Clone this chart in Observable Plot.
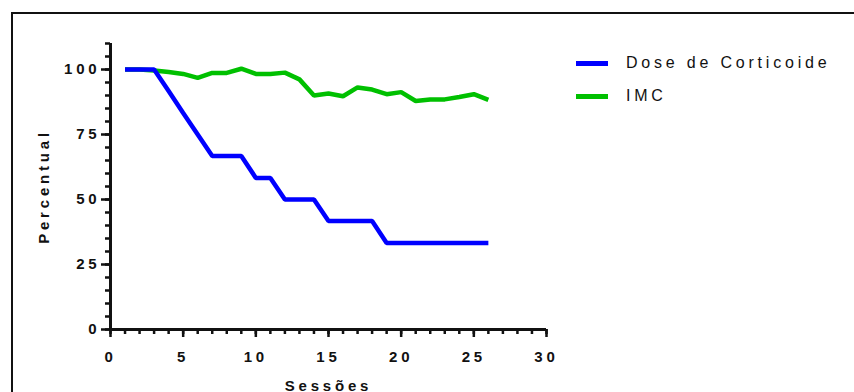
<!DOCTYPE html>
<html><head><meta charset="utf-8">
<script src="https://cdn.jsdelivr.net/npm/d3@7"></script>
<script src="https://cdn.jsdelivr.net/npm/@observablehq/plot@0.6"></script>
<style>
body{margin:0;background:#fff;}
#wrap{position:relative;width:854px;height:392px;overflow:hidden;font-family:"Liberation Sans",Arial,sans-serif;background:#fff;}
#frame{position:absolute;left:11px;top:12px;width:900px;height:500px;border-left:2px solid #111;border-top:2px solid #111;}
#chart{position:absolute;left:0;top:0;}
#chart svg text{letter-spacing:3.8px;}
.leg{position:absolute;left:576px;display:flex;align-items:center;height:20px;font-size:16px;letter-spacing:3.8px;color:#111;}
.sw{width:32px;height:5px;margin-right:18px;}
</style></head>
<body>
<div id="wrap">
  <div id="frame"></div>
  <div id="chart"></div>
  <div id="legend"></div>
</div>
<script>
const sessions = [1,2,3,4,5,6,7,8,9,10,11,12,13,14,15,16,17,18,19,20,21,22,23,24,25,26];
const doseCorticoide = [100,100,100,91.7,83.3,75,66.7,66.7,66.7,58.3,58.3,50,50,50,41.7,41.7,41.7,41.7,33.3,33.3,33.3,33.3,33.3,33.3,33.3,33.3];
const imc = [100,100,99.6,99.0,98.3,96.8,98.7,98.7,100.3,98.3,98.3,98.8,96.2,90.0,90.8,89.7,93.1,92.3,90.5,91.3,87.9,88.5,88.5,89.4,90.5,88.3];
const seriesNames = ["Dose de Corticoide", "IMC"];
const seriesColors = ["#0000ff", "#00c000"];
const yMajorTicks = [0,25,50,75,100];
const yMinorTicks = d3.range(0,111,5);
const xMajorTicks = [0,5,10,15,20,25,30];
const xMinorTicks = d3.range(0,31,1);

const rows = sessions.map((s,i)=>({s, dose: doseCorticoide[i], imc: imc[i]}));
const font = '"Liberation Sans", Arial, sans-serif';

const chart = Plot.plot({
  width: 854, height: 392,
  marginLeft: 110, marginRight: 308, marginTop: 43, marginBottom: 63,
  style: {fontFamily: font, fontSize: "15px", fontWeight: "bold", color: "#111", background: "transparent", overflow: "visible"},
  x: {domain: [0,30], label: null},
  y: {domain: [0,110], label: null},
  marks: [
    Plot.axisY(yMinorTicks, {tickSize: 5, strokeWidth: 2.5, tickFormat: () => "", label: null}),
    Plot.axisY(yMajorTicks, {tickSize: 9, strokeWidth: 2.5, tickPadding: 1, label: "Percentual", labelAnchor: "center", labelOffset: 72, labelArrow: "none"}),
    Plot.axisX(xMinorTicks, {tickSize: 5, strokeWidth: 2.5, tickFormat: () => "", label: null}),
    Plot.axisX(xMajorTicks, {tickSize: 8, strokeWidth: 2.5, tickPadding: 14, label: "Sessões", labelAnchor: "center", labelOffset: 61, labelArrow: "none"}),
    Plot.ruleX([0], {y1: 0, y2: 110, strokeWidth: 3, stroke: "#111"}),
    Plot.ruleY([0], {x1: 0, x2: 30, strokeWidth: 3, stroke: "#111"}),
    Plot.line(rows, {x: "s", y: "imc", stroke: seriesColors[1], strokeWidth: 4.5, strokeLinecap: "butt", strokeLinejoin: "miter"}),
    Plot.line(rows, {x: "s", y: "dose", stroke: seriesColors[0], strokeWidth: 4.5, strokeLinecap: "butt", strokeLinejoin: "miter"})
  ]
});
document.getElementById("chart").appendChild(chart);

const legend = document.getElementById("legend");
seriesNames.forEach((name, i) => {
  const row = document.createElement("div");
  row.className = "leg";
  row.style.top = (53 + i * 33) + "px";
  const sw = document.createElement("div");
  sw.className = "sw";
  sw.style.background = seriesColors[i];
  const t = document.createElement("span");
  t.textContent = name;
  row.appendChild(sw); row.appendChild(t);
  legend.appendChild(row);
});
</script>
</body></html>
